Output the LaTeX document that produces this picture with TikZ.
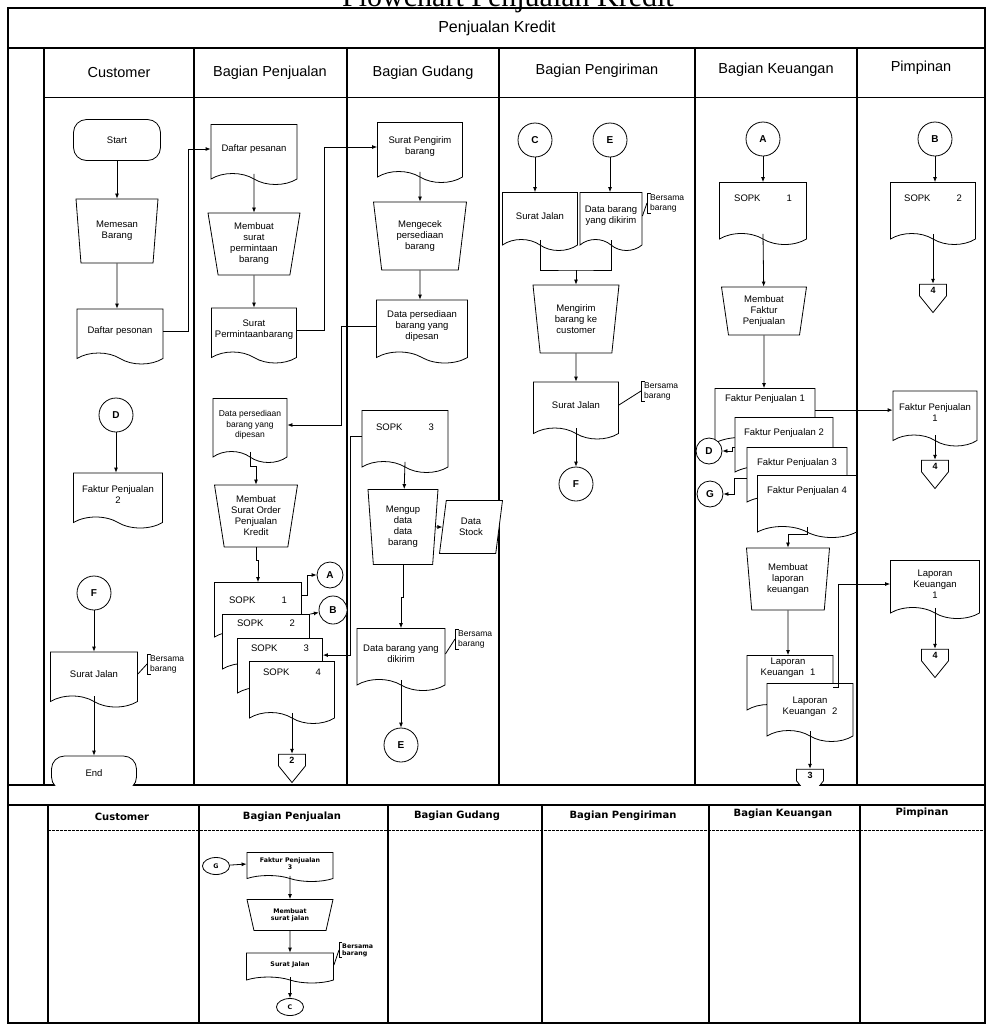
\documentclass[tikz,border=0pt]{standalone}
\usepackage{fontspec}
\setmainfont{Liberation Sans}
\newfontfamily\titlefont{Liberation Serif}
\newfontfamily\widefont{DejaVu Sans}
\usetikzlibrary{arrows.meta,shapes.geometric,shapes.symbols}

\tikzset{
  shapetext/.style={font=\fontsize{9.5}{11}\selectfont},
  smalltext/.style={font=\widefont\bfseries\fontsize{6.3}{6.8}\selectfont},
  doc/.style={tape, tape bend top=none, tape bend bottom=out and in, tape bend height=11pt,
    draw, fill=white, line width=.8pt, align=center, inner sep=1pt, shapetext},
  manual/.style={trapezium, shape border rotate=180, trapezium left angle=77,
    trapezium right angle=77, trapezium stretches body, draw, fill=white,
    line width=.8pt, align=center, inner sep=1pt, shapetext},
  store/.style={trapezium, trapezium left angle=71, trapezium right angle=109,
    trapezium stretches body, draw, fill=white, line width=.8pt, align=center,
    inner sep=1pt, shapetext},
  term/.style={rectangle, rounded corners=13pt, draw, fill=white, line width=.8pt,
    minimum width=87pt, minimum height=41pt, shapetext},
  conn/.style={circle, draw, fill=white, line width=.8pt, inner sep=0pt, minimum size=34pt,
    font=\fontsize{10}{12}\selectfont\bfseries},
  bconn/.style={ellipse, draw, fill=white, line width=.8pt, inner sep=0pt,
    minimum width=27pt, minimum height=17pt, smalltext},
  offpage/.style={signal, signal to=south, signal from=nowhere, signal pointer angle=78,
    draw, fill=white, line width=.8pt, inner sep=1pt, minimum width=27pt,
    minimum height=16pt, font=\fontsize{9}{10}\selectfont\bfseries},
  anno/.style={align=left, inner xsep=3pt, inner ysep=1pt, font=\fontsize{8.5}{10}\selectfont},
  header/.style={font=\fontsize{14.5}{16}\selectfont},
  bheader/.style={font=\widefont\bfseries\fontsize{10}{12}\selectfont},
  lane/.style={line width=1.4pt},
  flow/.style={line width=.8pt, -{Latex[length=5pt,width=4pt]}},
  plain/.style={line width=.8pt},
}

\begin{document}
\begin{tikzpicture}[x=1pt,y=-1pt]
  \useasboundingbox (0,0) rectangle (987,1026);

  % frame and lanes
  \node[font=\titlefont\fontsize{30}{32}\selectfont, anchor=base] (doctitle) at (508,6)
    {Flowchart Penjualan Kredit};
  \draw[lane, line width=1.8pt] (8,8) rectangle (985,1023);
  \draw[lane] (8,48) -- (985,48);
  \draw[lane] (44,48) -- (44,785);
  \foreach \x in {194,347,499,695,857}
    \draw[lane] (\x,48) -- (\x,785);
  \draw[line width=1pt] (44,97) -- (985,97);
  \draw[lane] (8,785) -- (985,785);
  \draw[lane] (8,805) -- (985,805);
  \draw[lane] (48,805) -- (48,1023);
  \foreach \x in {199,388,542,709,860}
    \draw[lane] (\x,805) -- (\x,1023);
  \draw[line width=.6pt, dash pattern=on 3pt off 1pt] (48,830) -- (985,830);

  \node[font=\fontsize{16}{18}\selectfont] (ptitle) at (497,28) {Penjualan Kredit};
  \node[header] (hcust) at (119,73) {Customer};
  \node[header] (hjual) at (270,73) {Bagian Penjualan};
  \node[header] (hgud) at (423,73) {Bagian Gudang};
  \node[header] (hkirim) at (597,71) {Bagian Pengiriman};
  \node[header] (hkeu) at (776,70) {Bagian Keuangan};
  \node[header] (hpim) at (921,68) {Pimpinan};

  \node[bheader] (bhcust) at (122,817) {Customer};
  \node[bheader] (bhjual) at (292,817) {Bagian Penjualan};
  \node[bheader] (bhgud) at (457,816) {Bagian Gudang};
  \node[bheader] (bhkirim) at (623,816) {Bagian Pengiriman};
  \node[bheader] (bhkeu) at (783,814) {Bagian Keuangan};
  \node[bheader] (bhpim) at (922,813) {Pimpinan};

  % Customer
  \node[term] (start) at (117,140) {Start};
  \node[manual, minimum width=82pt, minimum height=64pt] (cpesan) at (117,231) {Memesan\\Barang};
  \node[doc, minimum width=86pt, minimum height=55pt] (cdaftar) at (120,331) {Daftar pesonan};
  \node[conn] (cD) at (116,415) {D};
  \node[doc, minimum width=89pt, minimum height=55pt] (cfaktur) at (118,495) {Faktur Penjualan\\2};
  \node[conn] (cF) at (94,593) {F};
  \node[doc, minimum width=87pt, minimum height=55pt] (csurat) at (94,674) {Surat Jalan};
  \node[anno, anchor=west] (cann) at (147,664) {Bersama\\barang};
  \begin{scope}
    \clip (44,97) rectangle (194,785);
    \node[term, minimum width=85pt, minimum height=34pt] (cend) at (94,773) {End};
  \end{scope}

  % Bagian Penjualan
  \node[doc, minimum width=86pt, minimum height=60pt] (pdaftar) at (254,149) {Daftar pesanan};
  \node[manual, minimum width=92pt, minimum height=62pt] (pminta) at (254,244)
    {Membuat\\surat\\permintaan\\barang};
  \node[doc, minimum width=85pt, minimum height=55pt] (psurat) at (254,330)
    {Surat\\Permintaanbarang};
  \node[doc, minimum width=74pt, minimum height=64pt, font=\fontsize{8.5}{10.5}\selectfont]
    (pdata) at (250,425) {Data persediaan\\barang yang\\dipesan};
  \node[manual, minimum width=83pt, minimum height=62pt] (porder) at (256,516)
    {Membuat\\Surat Order\\Penjualan\\Kredit};
  \node[doc, minimum width=87pt, minimum height=60pt, text depth=14pt] (sopk1) at (258,607)
    {SOPK\hspace{26pt}1};
  \node[doc, minimum width=87pt, minimum height=60pt, text depth=31pt] (sopk2) at (266,639)
    {SOPK\hspace{26pt}2};
  \node[doc, minimum width=85pt, minimum height=60pt, text depth=30pt] (sopk3) at (280,663)
    {SOPK\hspace{26pt}3};
  \node[doc, minimum width=85pt, minimum height=62pt, text depth=30pt] (sopk4) at (292,687)
    {SOPK\hspace{26pt}4};
  \node[conn, minimum size=26pt] (pA) at (330,575) {A};
  \node[conn, minimum size=28pt] (pB) at (333,610) {B};
  \node[offpage] (p2) at (292,760) {2};

  % Bagian Gudang
  \node[doc, minimum width=85pt, minimum height=60pt] (gsurat) at (420,147)
    {Surat Pengirim\\barang};
  \node[manual, minimum width=93pt, minimum height=68pt, trapezium left angle=76,
        trapezium right angle=76] (gcek) at (420,236) {Mengecek\\persediaan\\barang};
  \node[doc, minimum width=91pt, minimum height=63pt] (gdata) at (422,326)
    {Data persediaan\\barang yang\\dipesan};
  \node[doc, minimum width=86pt, minimum height=62pt, text depth=17pt] (gsopk) at (405,436)
    {SOPK\hspace{26pt}3};
  \node[manual, minimum width=70pt, minimum height=75pt, trapezium left angle=83,
        trapezium right angle=83] (ginput) at (403,527) {Mengup\\data\\data\\barang};
  \node[store, minimum width=63pt, minimum height=53pt] (gstock) at (471,527) {Data\\Stock};
  \node[doc, minimum width=88pt, minimum height=62pt] (gkirim) at (401,654)
    {Data barang yang\\dikirim};
  \node[anno, anchor=west] (gann) at (455,639) {Bersama\\barang};
  \node[conn] (gE) at (401,745) {E};

  % Bagian Pengiriman
  \node[conn] (rC) at (535,140) {C};
  \node[conn] (rE) at (610,140) {E};
  \node[doc, minimum width=75pt, minimum height=58pt] (rsurat) at (540,216) {Surat Jalan};
  \node[doc, minimum width=62pt, minimum height=58pt] (rdata) at (611,216)
    {Data barang\\yang dikirim};
  \node[anno, anchor=west] (rann1) at (647,203) {Bersama\\barang};
  \coordinate (rjoin) at (576,270);
  \node[manual, minimum width=86pt, minimum height=68pt] (rkirim) at (576,319)
    {Mengirim\\barang ke\\customer};
  \node[doc, minimum width=85pt, minimum height=57pt] (rjalan) at (576,405) {Surat Jalan};
  \node[anno, anchor=west] (rann2) at (641,391) {Bersama\\barang};
  \node[conn] (rF) at (576,484) {F};

  % Bagian Keuangan
  \node[conn] (kA) at (763,139) {A};
  \node[doc, minimum width=87pt, minimum height=62pt, text depth=20pt] (ksopk) at (763,208)
    {SOPK\hspace{26pt}1};
  \node[manual, minimum width=85pt, minimum height=48pt, trapezium left angle=78,
        trapezium right angle=78] (kfaktur) at (764,311) {Membuat\\Faktur\\Penjualan};
  \node[doc, minimum width=100pt, minimum height=60pt, text depth=30pt] (kf1) at (765,413)
    {Faktur Penjualan 1};
  \node[doc, minimum width=98pt, minimum height=60pt, text depth=20pt] (kf2) at (784,442)
    {Faktur Penjualan 2};
  \node[doc, minimum width=100pt, minimum height=60pt, text depth=20pt] (kf3) at (797,472)
    {Faktur Penjualan 3};
  \node[doc, minimum width=99pt, minimum height=62pt, text depth=22pt] (kf4) at (807,501)
    {Faktur Penjualan 4};
  \node[conn, minimum size=26pt] (kD) at (709,451) {D};
  \node[conn, minimum size=26pt] (kG) at (710,494) {G};
  \node[manual, minimum width=83pt, minimum height=62pt, trapezium left angle=81,
        trapezium right angle=81] (klaporan) at (788,579) {Membuat\\laporan\\keuangan};
  \node[doc, minimum width=86pt, minimum height=60pt] (klap1) at (790,680) {};
  \node[shapetext, align=center] (klap1txt) at (788,668) {Laporan\\Keuangan\hspace{6pt}1};
  \node[doc, minimum width=86pt, minimum height=58pt] (klap2) at (810,707)
    {Laporan\\Keuangan\hspace{6pt}2};
  \begin{scope}
    \clip (695,97) rectangle (857,785);
    \node[offpage] (k3) at (810,775) {3};
  \end{scope}

  % Pimpinan
  \node[conn] (iB) at (935,139) {B};
  \node[doc, minimum width=85pt, minimum height=62pt, text depth=20pt] (isopk) at (933,208)
    {SOPK\hspace{26pt}2};
  \node[offpage] (i4a) at (933,290) {4};
  \node[doc, minimum width=84pt, minimum height=55pt] (ifaktur) at (935,413)
    {Faktur Penjualan\\1};
  \node[offpage] (i4b) at (935,466) {4};
  \node[doc, minimum width=89pt, minimum height=58pt] (ilap) at (935,584)
    {Laporan\\Keuangan\\1};
  \node[offpage] (i4c) at (935,655) {4};

  % second page, Bagian Penjualan
  \node[bconn] (bG) at (216,866) {G};
  \node[doc, minimum width=86pt, minimum height=29pt, tape bend height=6pt, smalltext]
    (bfaktur) at (290,864) {Faktur Penjualan\\3};
  \node[manual, minimum width=86pt, minimum height=31pt, trapezium left angle=65,
        trapezium right angle=65, smalltext] (bjalan) at (290,915) {Membuat\\surat jalan};
  \node[doc, minimum width=87pt, minimum height=30pt, tape bend height=6pt, smalltext]
    (bsurat) at (290,965) {Surat Jalan};
  \node[anno, anchor=west, smalltext] (bann) at (339,950) {Bersama\\barang};
  \node[bconn] (bC) at (290,1007) {C};

  % flows
  \draw[flow] (start) -- (cpesan);
  \draw[flow] (cpesan) -- (cpesan |- cdaftar.north);
  \draw[flow] (cdaftar.east) -- ++(25,0) |- (pdaftar.west);
  \draw[flow] (pdaftar.south) -- (pminta);
  \draw[flow] (pminta) -- (psurat.north);
  \draw[flow] (psurat.east) -- ++(27,0) |- (gsurat.west);
  \draw[flow] (gsurat.south) -- (gcek);
  \draw[flow] (gcek) -- (gcek |- gdata.north);
  \draw[flow] (gdata.west) -- ++(-35,0) |- (pdata.east);
  \draw[flow] (pdata.south) -- ++(0,14) -| (porder);
  \draw[flow] (porder) -- ++(0,44) -| (sopk1.north);
  \coordinate (s1out) at ([yshift=-13pt]sopk1.north east);
  \draw[flow] (s1out) -- ++(5,0) |- (pA);
  \draw[flow] (sopk2.north east) -- (pB);
  \draw[flow] (gsopk.west) -- ++(-11,0) |- ([yshift=-17pt]sopk3.north east);
  \draw[flow] (sopk4.south) -- (p2.north);
  \draw[flow] (gsopk.south) -- (ginput);
  \draw[flow] (ginput) -- (gstock);
  \draw[flow] (ginput) -- ++(0,70) -| (gkirim.north);
  \draw[flow] (gkirim.south) -- (gE);
  \draw[flow] (rC) -- (rC |- rsurat.north);
  \draw[flow] (rE) -- (rE |- rdata.north);
  \draw[plain] (rsurat.south) |- (rjoin) -| (rdata.south);
  \draw[flow] (rjoin) -- (rkirim);
  \draw[flow] (rkirim) -- (rjalan.north);
  \draw[flow] (rjalan.south) -- (rF);
  \draw[flow] (kA) -- (ksopk.north);
  \draw[flow] (ksopk.south) -- (kfaktur);
  \draw[flow] (kfaktur) -- (kfaktur |- kf1.north);
  \coordinate (kf1out) at ([yshift=-22pt]kf1.north east);
  \draw[flow] (kf1out) -- (kf1out -| ifaktur.west);
  \draw[flow] ([yshift=-30pt]kf2.north west) -- ++(-2,0) |- (kD);
  \draw[flow] ([yshift=-31pt]kf3.north west) -- ++(-12,0) |- (kG);
  \draw[flow] (kf4.south) -- ++(0,7) -| (klaporan);
  \draw[flow] (klaporan) -- (klaporan |- klap1.north);
  \coordinate (lap1out) at ([yshift=-32pt]klap1.north east);
  \draw[flow] (lap1out) -- ++(5,0) |- (ilap.west);
  \draw[flow] (klap2.south) -- (k3.north);
  \draw[flow] (iB) -- (iB |- isopk.north);
  \draw[flow] (isopk.south) -- (i4a.north);
  \draw[flow] (ifaktur.south) -- (i4b.north);
  \draw[flow] (ilap.south) -- (i4c.north);
  \draw[flow] (cD) -- (cD |- cfaktur.north);
  \draw[flow] (cF) -- (cF |- csurat.north);
  \draw[flow] (csurat.south) -- (cend);
  \draw[flow] (bG) -- (bfaktur.west);
  \draw[flow] (bfaktur.south) -- (bjalan);
  \draw[flow] (bjalan) -- (bsurat.north);
  \draw[flow] (bsurat.south) -- (bC);

  % notes
  \draw[plain] ([xshift=4pt]cann.north west) -| (cann.south west) -- ++(4,0);
  \draw[plain] (csurat.east) -- (cann.west);
  \draw[plain] ([xshift=4pt]gann.north west) -| (gann.south west) -- ++(4,0);
  \draw[plain] (gkirim.east) -- (gann.west);
  \draw[plain] ([xshift=4pt]rann1.north west) -| (rann1.south west) -- ++(4,0);
  \draw[plain] (rdata.east) -- (rann1.west);
  \draw[plain] ([xshift=4pt]rann2.north west) -| (rann2.south west) -- ++(4,0);
  \draw[plain] (rjalan.east) -- (rann2.west);
  \draw[plain] ([xshift=3pt]bann.north west) -| (bann.south west) -- ++(3,0);
  \draw[plain] (bsurat.east) -- (bann.west);
\end{tikzpicture}
\end{document}
